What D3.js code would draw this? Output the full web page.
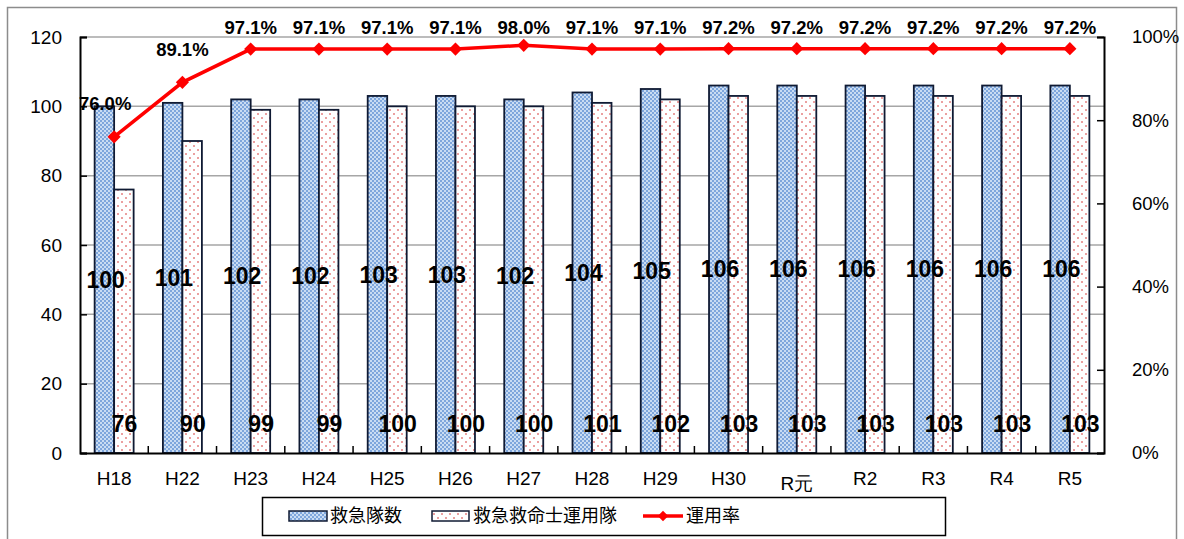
<!DOCTYPE html>
<html><head><meta charset="utf-8">
<script src="https://cdn.jsdelivr.net/npm/d3@7"></script>
<style>body{margin:0;background:#fff}svg{display:block}</style>
</head><body>
<svg id="c" width="1184" height="539"></svg>
<script>
const categories = ["H18","H22","H23","H24","H25","H26","H27","H28","H29","H30","R元","R2","R3","R4","R5"];
const ambulances = [100,101,102,102,103,103,102,104,105,106,106,106,106,106,106];
const paramedicUnits = [76,90,99,99,100,100,100,101,102,103,103,103,103,103,103];
const rates = [76.0,89.1,97.1,97.1,97.1,97.1,98.0,97.1,97.1,97.2,97.2,97.2,97.2,97.2,97.2];
const leftTicks = [0,20,40,60,80,100,120];
const rightTicks = [0,20,40,60,80,100];
const seriesNames = ["救急隊数","救急救命士運用隊","運用率"];

const svg = d3.select("#c");
const m = {l:80, r:1104, t:37, b:453};
const font = "'Liberation Sans', Arial, sans-serif";
const boldFont = "'Liberation Sans', Arial, sans-serif";

const defs = svg.append("defs");
const pb = defs.append("pattern").attr("id","pBlue").attr("width",4).attr("height",4).attr("patternUnits","userSpaceOnUse");
pb.append("rect").attr("width",4).attr("height",4).attr("fill","#c9dcf3");
pb.append("rect").attr("width",2).attr("height",2).attr("fill","#7ea6dc");
pb.append("rect").attr("x",2).attr("y",2).attr("width",2).attr("height",2).attr("fill","#7ea6dc");
const pp = defs.append("pattern").attr("id","pPink").attr("width",8).attr("height",8).attr("patternUnits","userSpaceOnUse");
pp.append("rect").attr("width",8).attr("height",8).attr("fill","#fff");
pp.append("rect").attr("x",1).attr("y",1).attr("width",2).attr("height",2).attr("fill","#eba0a0");
pp.append("rect").attr("x",5).attr("y",5).attr("width",2).attr("height",2).attr("fill","#eba0a0");

// outer frame
svg.append("rect").attr("x",7.5).attr("y",7.5).attr("width",1169).attr("height",560)
  .attr("fill","none").attr("stroke","#8c8c8c").attr("stroke-width",1.5);

const x = d3.scaleBand().domain(categories).range([m.l,m.r]).paddingInner(0).paddingOuter(0);
const y = d3.scaleLinear().domain([0,120]).range([m.b,m.t]);
const y2 = d3.scaleLinear().domain([0,100]).range([m.b,m.t]);
const step = x.bandwidth();
const bw = 19.5;

// grid
svg.append("g").selectAll("line").data(leftTicks.filter(d=>d>0)).join("line")
  .attr("x1",m.l).attr("x2",m.r).attr("y1",d=>y(d)).attr("y2",d=>y(d))
  .attr("stroke","#a6a6a6").attr("stroke-width",1.5);

// bars
const cx = c => x(c) + step/2;
svg.append("g").selectAll("rect").data(categories).join("rect")
  .attr("x",(c)=>cx(c)-bw).attr("y",(c,i)=>y(ambulances[i])).attr("width",bw)
  .attr("height",(c,i)=>m.b-y(ambulances[i]))
  .attr("fill","url(#pBlue)").attr("stroke","#0f1a33").attr("stroke-width",1.8);
svg.append("g").selectAll("rect").data(categories).join("rect")
  .attr("x",(c)=>cx(c)).attr("y",(c,i)=>y(paramedicUnits[i])).attr("width",bw)
  .attr("height",(c,i)=>m.b-y(paramedicUnits[i]))
  .attr("fill","url(#pPink)").attr("stroke","#0f1a33").attr("stroke-width",1.8);

// axes
const gl = svg.append("g").attr("transform",`translate(${m.l},0)`)
  .call(d3.axisLeft(y).tickValues(leftTicks).tickSize(-7).tickPadding(18));
const gr = svg.append("g").attr("transform",`translate(${m.r},0)`)
  .call(d3.axisRight(y2).tickValues(rightTicks).tickFormat(d=>d+"%").tickSize(-7).tickPadding(28));
const gb = svg.append("g").attr("transform",`translate(0,${m.b})`)
  .call(d3.axisBottom(x).tickSize(0).tickPadding(19));
[gl,gr,gb].forEach(g=>{
  g.select(".domain").attr("stroke","#000").attr("stroke-width",2);
  g.selectAll(".tick line").attr("stroke","#000").attr("stroke-width",1.5);
  g.selectAll("text").attr("font-family",font).attr("font-size",19).attr("fill","#000");
});
gr.selectAll("text").attr("font-size",18.5);
gb.selectAll("text").attr("dy",(d)=> d==="R元" ? "0.95em" : "0.71em");
// category boundary ticks
svg.append("g").selectAll("line").data(categories.slice(1)).join("line")
  .attr("x1",c=>x(c)).attr("x2",c=>x(c)).attr("y1",m.b).attr("y2",m.b-7)
  .attr("stroke","#000").attr("stroke-width",1.5);

// line
const line = d3.line().x((d,i)=>cx(categories[i])).y(d=>y2(d));
svg.append("path").datum(rates).attr("d",line).attr("fill","none")
  .attr("stroke","#ff0000").attr("stroke-width",3.5);
svg.append("g").selectAll("path").data(rates).join("path")
  .attr("d",d3.symbol().type(d3.symbolDiamond2).size(110))
  .attr("transform",(d,i)=>`translate(${cx(categories[i])},${y2(d)})`)
  .attr("fill","#ff0000");

// labels
const lab = svg.append("g").attr("font-family",boldFont).attr("font-weight","bold")
  .attr("text-anchor","middle").attr("fill","#000");
lab.selectAll("text.a").data(ambulances).join("text").attr("class","a").attr("font-size",23)
  .attr("x",(d,i)=>cx(categories[i])-8.5).attr("y",d=>y(d/2)).attr("dy","0.35em").text(d=>d);
lab.selectAll("text.p").data(paramedicUnits).join("text").attr("class","p").attr("font-size",23)
  .attr("x",(d,i)=>cx(categories[i])+10.5).attr("y",y(8.3)).attr("dy","0.35em").text(d=>d);
lab.selectAll("text.r").data(rates).join("text").attr("class","r").attr("font-size",18.5)
  .attr("x",(d,i)=>cx(categories[i]) - (i===0?9:0)).attr("y",d=>Math.max(y2(d)-33, 28)).attr("dy","0.35em")
  .text(d=>d.toFixed(1)+"%");

// legend
const lg = svg.append("g");
lg.append("rect").attr("x",262.5).attr("y",497.5).attr("width",683).attr("height",38)
  .attr("fill","#fff").attr("stroke","#000").attr("stroke-width",1.5);
const ly = 516;
lg.append("rect").attr("x",289).attr("y",ly-5).attr("width",38).attr("height",10).attr("fill","url(#pBlue)").attr("stroke","#0f1a33").attr("stroke-width",1.5);
lg.append("rect").attr("x",432).attr("y",ly-5).attr("width",37).attr("height",10).attr("fill","url(#pPink)").attr("stroke","#0f1a33").attr("stroke-width",1.5);
lg.append("line").attr("x1",643).attr("x2",683).attr("y1",ly).attr("y2",ly).attr("stroke","#ff0000").attr("stroke-width",3.5);
lg.append("path").attr("d",d3.symbol().type(d3.symbolDiamond2).size(70)).attr("transform",`translate(663,${ly})`).attr("fill","#ff0000");
const lx = [330,473,686];
lg.selectAll("text").data(seriesNames).join("text").attr("x",(d,i)=>lx[i]).attr("y",ly).attr("dy","0.36em")
  .attr("font-family","'Noto Sans CJK JP',sans-serif").attr("font-size",18).text(d=>d);
</script>
</body></html>
